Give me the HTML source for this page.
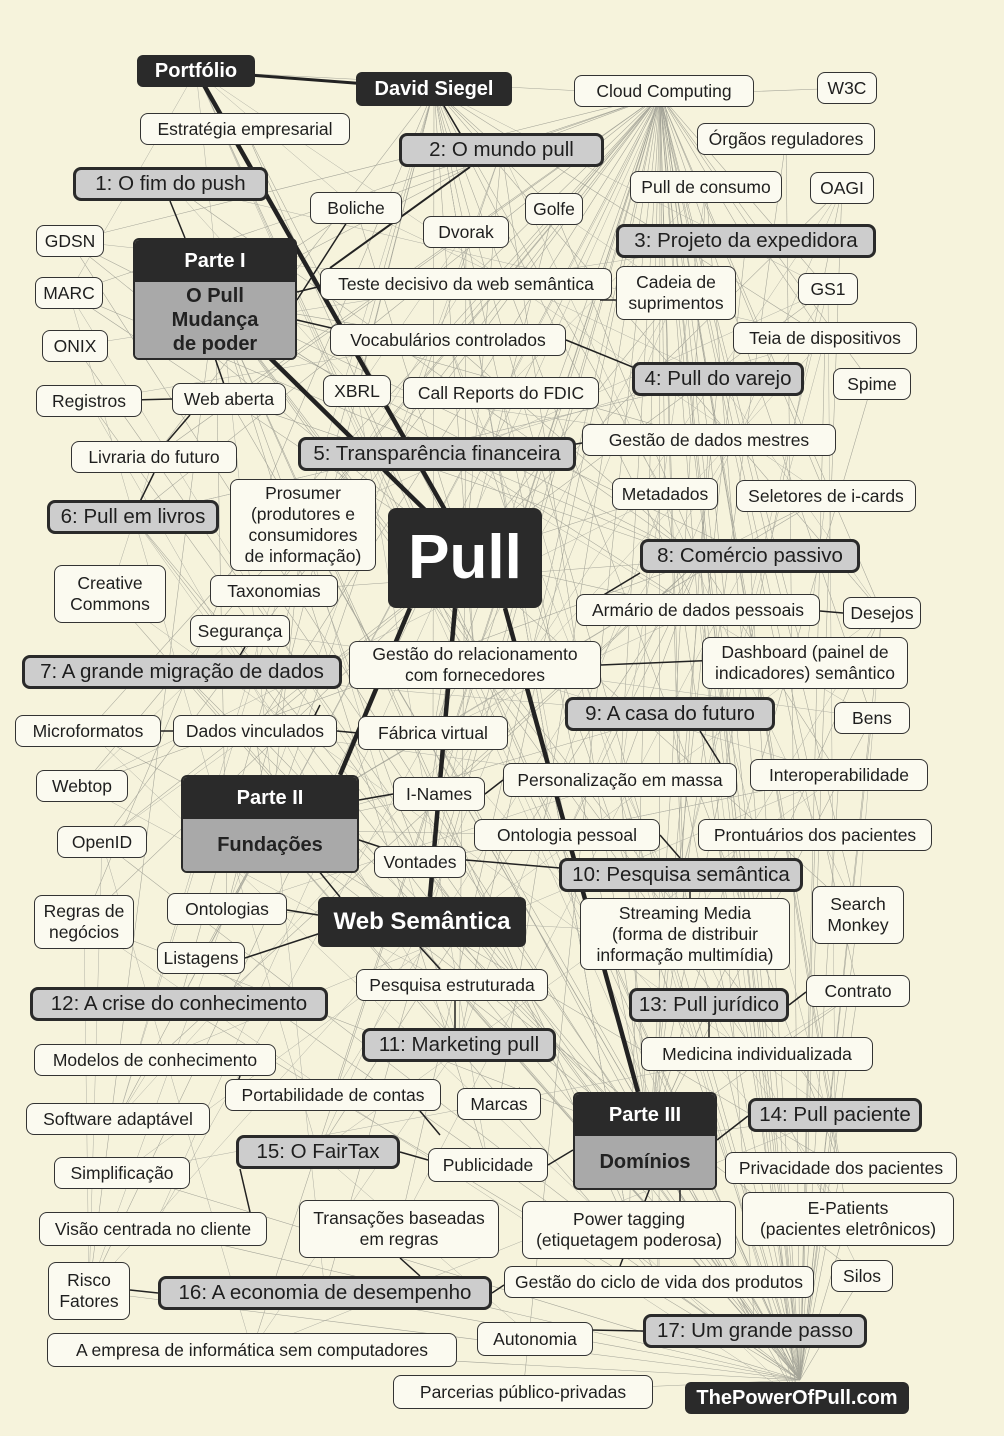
<!DOCTYPE html>
<html><head><meta charset="utf-8">
<style>
html,body{margin:0;padding:0}
body{width:1004px;height:1436px;background:#f6f3dc;position:relative;overflow:hidden;font-family:"Liberation Sans","DejaVu Sans",sans-serif}
svg{position:absolute;left:0;top:0}
.n{position:absolute;box-sizing:border-box;display:flex;align-items:center;justify-content:center;text-align:center;line-height:1.2;color:#1e1e1e}
.w{background:#fbfaf0;border:1.5px solid #333;border-radius:8px;font-size:17.5px}
.g{background:#cdcdcd;border:3px solid #2a2a2a;border-radius:8px;font-size:20.5px}
.d{background:#2a2a2a;color:#fff;border-radius:6px;font-weight:bold;font-size:20px}
.p{position:absolute;box-sizing:border-box;border:2px solid #2a2a2a;border-radius:6px;overflow:hidden;font-weight:bold;text-align:center}
.p .t{background:#2a2a2a;color:#fff;font-size:20px;display:flex;align-items:center;justify-content:center}
.p .b{background:#a9a9a9;color:#222;font-size:20px;display:flex;align-items:center;justify-content:center;line-height:1.2}
</style></head><body>
<svg id="s" width="1004" height="1436"></svg>
<div id="nodes"></div>
<script>
var N=[
['d',137,55,118,32,'Portfólio'],['d',356,72,156,34,'David Siegel'],
['d',318,897,208,50,'Web Semântica',24],['d',685,1382,224,32,'ThePowerOfPull.com'],
['g',73,167,195,34,'1: O fim do push'],['g',399,133,205,34,'2: O mundo pull'],['g',616,224,260,34,'3: Projeto da expedidora'],
['g',632,362,172,34,'4: Pull do varejo'],['g',298,437,278,34,'5: Transparência financeira'],['g',47,500,172,34,'6: Pull em livros'],
['g',22,655,320,34,'7: A grande migração de dados'],['g',640,539,220,34,'8: Comércio passivo'],['g',565,697,210,34,'9: A casa do futuro'],
['g',559,858,244,34,'10: Pesquisa semântica'],['g',362,1028,194,34,'11: Marketing pull'],['g',30,987,298,34,'12: A crise do conhecimento'],
['g',629,988,160,34,'13: Pull jurídico'],['g',748,1098,174,34,'14: Pull paciente'],['g',236,1135,164,34,'15: O FairTax'],
['g',158,1276,334,34,'16: A economia de desempenho'],['g',643,1314,224,34,'17: Um grande passo'],
['w',140,113,210,32,'Estratégia empresarial'],['w',574,75,180,32,'Cloud Computing'],['w',817,72,60,32,'W3C'],
['w',697,123,178,32,'Órgãos reguladores'],['w',630,171,152,32,'Pull de consumo'],['w',810,172,64,32,'OAGI'],
['w',310,192,92,32,'Boliche'],['w',423,216,86,32,'Dvorak'],['w',525,193,58,32,'Golfe'],['w',36,225,68,32,'GDSN'],
['w',35,277,68,32,'MARC'],['w',42,330,66,32,'ONIX'],['w',320,268,292,32,'Teste decisivo da web semântica'],
['w',616,266,120,54,'Cadeia de<br>suprimentos'],['w',798,273,60,32,'GS1'],['w',330,324,236,32,'Vocabulários controlados'],
['w',733,322,184,32,'Teia de dispositivos'],['w',36,385,106,32,'Registros'],['w',172,383,114,32,'Web aberta'],
['w',323,375,68,32,'XBRL'],['w',403,377,196,32,'Call Reports do FDIC'],['w',833,368,78,32,'Spime'],
['w',71,441,166,32,'Livraria do futuro'],['w',582,424,254,32,'Gestão de dados mestres'],
['w',230,479,146,92,'Prosumer<br>(produtores e<br>consumidores<br>de informação)'],['w',612,478,106,32,'Metadados'],
['w',736,480,180,32,'Seletores de i-cards'],['w',54,565,112,58,'Creative<br>Commons'],['w',210,575,128,32,'Taxonomias'],
['w',576,594,244,32,'Armário de dados pessoais'],['w',843,597,78,32,'Desejos'],['w',190,615,100,32,'Segurança'],
['w',349,641,252,48,'Gestão do relacionamento<br>com fornecedores'],['w',702,637,206,52,'Dashboard (painel de<br>indicadores) semântico'],
['w',15,715,146,32,'Microformatos'],['w',173,715,164,32,'Dados vinculados'],['w',358,716,150,34,'Fábrica virtual'],
['w',834,702,76,32,'Bens'],['w',36,770,92,32,'Webtop'],['w',393,777,92,34,'I-Names'],
['w',503,763,234,34,'Personalização em massa'],['w',750,759,178,32,'Interoperabilidade'],['w',57,826,90,32,'OpenID'],
['w',474,819,186,32,'Ontologia pessoal'],['w',698,819,234,32,'Prontuários dos pacientes'],['w',374,846,92,32,'Vontades'],
['w',34,895,100,54,'Regras de<br>negócios'],['w',167,893,120,32,'Ontologias'],['w',812,886,92,58,'Search<br>Monkey'],
['w',580,898,210,72,'Streaming Media<br>(forma de distribuir<br>informação multimídia)'],['w',157,942,88,32,'Listagens'],
['w',356,969,192,32,'Pesquisa estruturada'],['w',806,975,104,32,'Contrato'],['w',34,1044,242,32,'Modelos de conhecimento'],
['w',641,1037,232,34,'Medicina individualizada'],['w',225,1079,216,32,'Portabilidade de contas'],['w',457,1088,84,32,'Marcas'],
['w',26,1103,184,32,'Software adaptável'],['w',725,1152,232,32,'Privacidade dos pacientes'],['w',428,1148,120,34,'Publicidade'],
['w',54,1157,136,32,'Simplificação'],['w',742,1192,212,54,'E-Patients<br>(pacientes eletrônicos)'],
['w',39,1212,228,34,'Visão centrada no cliente'],['w',299,1200,200,58,'Transações baseadas<br>em regras'],
['w',522,1201,214,58,'Power tagging<br>(etiquetagem poderosa)'],['w',48,1262,82,58,'Risco<br>Fatores'],
['w',504,1266,310,32,'Gestão do ciclo de vida dos produtos'],['w',831,1260,62,32,'Silos'],
['w',47,1333,410,34,'A empresa de informática sem computadores'],['w',477,1322,116,34,'Autonomia'],
['w',393,1375,260,34,'Parcerias público-privadas']
];
var h='';var C=[];
N.forEach(function(a){var fs=a[6]?'font-size:'+a[6]+'px;':'';
h+='<div class="n '+a[0]+'" style="left:'+a[1]+'px;top:'+a[2]+'px;width:'+a[3]+'px;height:'+a[4]+'px;'+fs+'">'+a[5]+'</div>';
C.push([a[1]+a[3]/2,a[2]+a[4]/2]);});
h+='<div class="n d" style="left:388px;top:508px;width:154px;height:100px;font-size:62px;border-radius:8px">Pull</div>';
function part(x,y,w,t1,t2,h1,h2){return '<div class="p" style="left:'+x+'px;top:'+y+'px;width:'+w+'px"><div class="t" style="height:'+h1+'px">'+t1+'</div><div class="b" style="height:'+h2+'px">'+t2+'</div></div>';}
h+=part(133,238,164,'Parte I','O Pull<br>Mudança<br>de poder',42,76);
h+=part(181,775,178,'Parte II','Fundações',42,52);
h+=part(573,1092,144,'Parte III','Domínios',42,52);
document.getElementById('nodes').innerHTML=h;
var s='';
function L(x1,y1,x2,y2,w,c){s+='<line x1="'+x1+'" y1="'+y1+'" x2="'+x2+'" y2="'+y2+'" stroke="'+(c||'#222')+'" stroke-width="'+w+'"/>';}
var hubs=[[660,95],[800,1380],[465,558],[434,89],[650,1140],[270,830],[215,300],[700,560]];
var seed=7;function r(){seed=(seed*16807)%2147483647;return seed/2147483647;}
hubs.forEach(function(hb,k){C.forEach(function(c,i){if(r()<(k<2?0.6:0.2))L(hb[0],hb[1],c[0],c[1],0.55,'#a4a498');});});
for(var i=0;i<100;i++){var a=C[Math.floor(r()*C.length)],b=C[Math.floor(r()*C.length)];L(a[0],a[1],b[0],b[1],0.5,'#b0b0a4');}
var D=[[196,71,434,89,3],[434,89,470,150,1.5],[470,167,330,268,2],[170,201,185,238,1.5],[297,300,356,208,1.5],[297,292,330,284,1.5],[297,320,340,330,1.5],
[229,399,215,358,1.5],[89,401,172,399,1.5],[154,457,190,415,1.5],[133,516,154,473,1.5],[566,340,640,370,1.5],[600,300,640,300,1.5],[510,455,600,440,1.5],
[577,611,640,573,1.5],[820,611,843,613,1.5],[601,665,720,660,1.5],[337,731,358,733,1.5],[161,731,173,731,1.5],[320,705,300,745,1.5],[245,647,230,672,1.5],
[359,800,393,794,1.5],[485,794,503,780,1.5],[359,840,420,860,1.5],[466,860,560,868,1.5],[660,835,680,858,1.5],[690,892,690,898,1.5],[318,870,340,897,1.5],
[287,910,318,915,1.5],[245,958,330,930,1.5],[420,947,440,969,1.5],[455,1001,455,1028,1.5],[709,1022,709,1037,1.5],[717,1140,748,1116,1.5],[680,1188,680,1201,1.5],
[548,1165,573,1150,1.5],[400,1152,428,1160,1.5],[650,1188,620,1266,1.5],[590,1330,643,1331,1.5],[492,1293,504,1285,1.5],[250,1212,240,1169,1.5],[400,1258,420,1276,1.5],
[130,1290,158,1293,1.5],[420,1111,440,1135,1.5],[499,1104,520,1088,1.5],[700,731,720,763,1.5],[789,1005,806,992,1.5],[240,1076,230,1103,1.5]];
D.forEach(function(d){L(d[0],d[1],d[2],d[3],d[4]);});
L(196,71,445,510,4.5);L(270,358,425,510,4.5);L(410,608,340,775,4.5);L(455,608,430,897,4.5);L(505,608,638,1092,4.5);
document.getElementById('s').innerHTML=s;
</script>
</body></html>
